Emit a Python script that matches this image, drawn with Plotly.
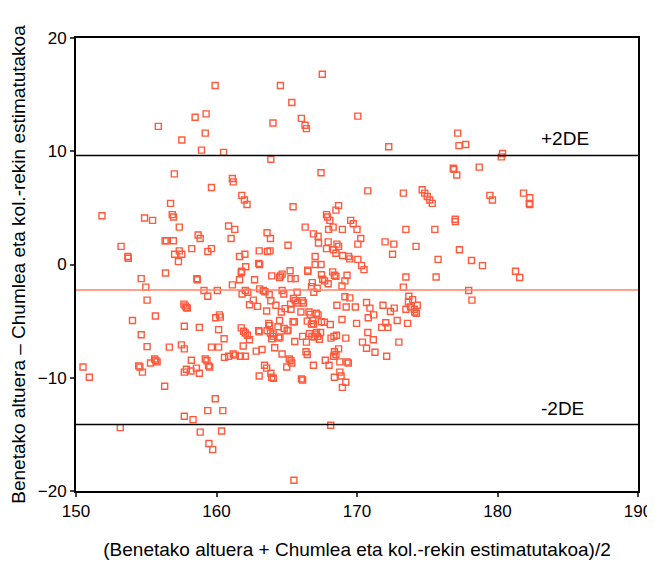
import plotly.graph_objects as go

# Bland-Altman data: mean of two measures (x) and their difference (y)
pts = [
(167.53,16.8),(159.9,15.8),(164.55,15.8),(165.36,14.3),(159.26,13.3),(158.48,13.0),(170.06,13.1),
(166.04,12.9),(164.02,12.5),(166.3,12.3),(166.4,12.0),(155.86,12.2),(159.2,11.6),(177.17,11.6),
(157.53,11.0),(177.74,10.6),(177.26,10.5),(172.26,10.4),(158.93,10.1),(160.5,9.9),(180.36,9.8),
(180.27,9.5),(163.87,9.3),
(167.44,8.1),(157.0,8.0),(176.85,8.5),(176.9,8.4),(178.7,8.6),(177.1,7.9),(161.13,7.6),(161.19,7.3),
(159.64,6.8),(170.77,6.5),(173.3,6.3),(174.64,6.6),(174.82,6.3),(175.0,6.0),(175.18,5.7),(175.36,5.4),
(181.85,6.3),(182.3,5.9),(182.26,5.4),(182.3,5.3),(179.46,6.1),(179.64,5.7),(161.8,6.1),(161.99,5.7),
(162.17,5.3),(156.73,5.4),(165.45,5.1),(168.69,5.2),(168.5,4.8),(151.85,4.3),(156.85,4.4),(156.94,4.2),
(167.83,4.4),(167.9,4.2),(168.07,3.9),(154.88,4.1),(155.45,3.9),(169.55,3.9),(169.73,3.6),(176.99,4.0),
(177.0,3.8),(160.86,3.4),(161.3,3.1),(157.35,3.3),(166.31,3.3),(168.3,3.3),(167.98,3.1),(168.96,3.1),
(170.0,3.1),(173.48,3.1),(175.54,3.1),(163.6,2.8),(166.9,2.7),(158.69,2.6),(158.84,2.3),(161.04,2.3),
(163.84,2.3),(167.23,2.5),(170.27,2.3),(156.34,2.1),(156.43,2.1),(156.93,2.1),(167.26,1.9),(167.95,2.0),
(168.57,1.8),(170.06,1.8),(172.0,2.0),(172.62,1.8),(153.21,1.6),(165.09,1.7),(174.2,1.6),(158.24,1.4),
(159.64,1.4),(167.83,1.4),(168.33,1.3),(168.69,1.6),(177.29,1.3),(157.35,1.2),(159.38,1.15),(163.04,1.2),
(163.63,1.15),(163.81,1.2),(168.5,1.0),(162.02,0.9),(157.02,0.9),(157.53,0.9),(172.53,0.9),(153.69,0.7),
(153.72,0.55),(161.64,0.7),(167.02,0.7),(168.98,0.8),(169.4,0.7),(169.49,0.5),(170.06,0.45),(175.77,0.45),
(178.15,0.35),(157.29,0.25),(163.0,0.1),(163.07,0.0),(167.02,0.0),(167.44,0.0),(170.33,-0.1),(170.5,-0.45),
(178.93,-0.1),
(162.08,-0.2),(165.24,-0.55),(166.49,-0.5),(166.5,-0.6),(161.79,-0.6),(161.76,-0.7),(156.37,-0.75),
(181.28,-0.6),(181.58,-1.15),(164.55,-1.0),(164.67,-0.85),(164.49,-1.15),(163.93,-1.0),(165.3,-1.25),
(165.6,-1.25),(167.47,-0.9),(167.56,-1.3),(167.7,-1.45),(168.27,-0.65),(168.39,-0.95),(168.5,-1.05),
(169.29,-0.95),(169.14,-1.45),(154.64,-1.25),(158.6,-1.25),(158.63,-1.35),(162.71,-1.35),(161.64,-1.35),
(173.48,-1.1),(175.63,-1.1),(161.13,-1.8),(167.95,-1.7),(166.82,-1.6),(166.76,-1.95),(167.17,-2.1),
(168.93,-1.9),(154.97,-2.0),(159.11,-2.3),(160.06,-2.3),(162.05,-2.3),(162.23,-2.45),(163.07,-2.15),
(163.33,-2.3),(163.45,-2.4),(164.67,-2.3),(164.79,-2.6),(165.74,-2.45),(166.93,-2.45),(173.3,-2.0),
(177.95,-2.3),(161.82,-2.6),(159.38,-2.8),(178.18,-3.15),(155.06,-3.15),(162.62,-3.15),(162.35,-3.55),
(163.75,-2.65),(163.87,-3.2),(165.48,-3.0),(165.6,-3.2),(165.77,-3.4),(166.1,-3.2),(166.19,-3.4),
(165.27,-3.5),(164.23,-3.6),(162.92,-3.7),(164.88,-3.9),(165.3,-3.95),(168.57,-3.6),(169.23,-3.75),
(169.14,-2.85),(169.49,-2.95),(169.88,-3.75),(170.68,-3.35),(170.92,-3.85),(171.85,-3.6),(172.65,-3.85),
(172.38,-4.15),(173.48,-3.95),(173.69,-2.8),(173.66,-3.3),(173.96,-3.1),(173.81,-3.75),(174.08,-3.95),
(174.29,-3.6),(174.11,-4.2),(174.23,-4.3),(157.68,-3.5),(157.77,-3.65),(157.86,-3.8),(157.92,-3.85),
(163.57,-4.1),(164.61,-4.2),(166.01,-4.2),(166.58,-4.2),(166.67,-4.4),(167.11,-4.3),(167.23,-4.45),
(171.19,-4.45),(170.8,-4.7),(159.94,-4.7),(160.21,-4.45),(160.27,-4.65),(155.65,-4.55),(154.02,-4.95),
(157.71,-5.45),(158.78,-5.55),(160.15,-5.75),(166.46,-5.0),(166.85,-4.95),(166.76,-5.25),(166.9,-5.25),
(167.47,-5.05),(167.68,-5.1),(168.1,-5.3),(168.93,-4.85),(169.97,-5.2),(172.86,-4.95),(173.6,-5.2),
(164.49,-4.95),(165.45,-5.05),(165.54,-5.05),(163.72,-5.2),(163.78,-5.4),(164.38,-5.5),(164.82,-5.65),
(165.03,-5.85),(165.09,-5.8),(172.05,-5.15),(172.2,-5.55),(171.76,-5.55),(161.76,-5.6),(161.93,-5.9),
(162.05,-6.05),(162.2,-6.25),(162.35,-6.65),(163.0,-5.85),(163.04,-5.95),(163.6,-5.85),(163.84,-6.05),
(164.05,-6.15),(164.02,-6.35),(163.93,-6.55),(164.43,-6.5),(164.52,-6.4),(166.13,-6.35),(166.61,-6.1),
(166.79,-6.35),(166.96,-6.4),(167.05,-6.15),(167.11,-6.0),(167.2,-6.35),(167.32,-6.6),(167.41,-6.0),
(168.15,-6.5),(168.36,-6.35),(168.54,-6.25),(169.2,-6.5),(170.77,-6.0),(171.16,-6.65),(170.39,-6.85),
(170.68,-7.4),(171.28,-7.75),(172.98,-6.85),(172.11,-8.1),(154.64,-6.2),(155.06,-7.25),(156.64,-7.3),
(157.5,-7.1),(157.71,-7.45),(159.64,-7.3),(160.15,-7.3),(160.54,-6.55),(161.9,-7.2),(162.83,-7.65),
(163.24,-7.5),(164.14,-7.35),(165.57,-6.8),(166.4,-6.85),(164.67,-7.9),(166.37,-7.7),(166.46,-7.95),
(167.74,-8.45),(168.39,-7.7),(168.5,-7.95),(168.69,-7.45),(168.33,-8.1),(160.57,-8.2),(160.86,-8.1),
(161.19,-7.9),(161.34,-8.0),(161.7,-8.1),(162.05,-8.1),(158.21,-8.45),(159.2,-8.35),(159.32,-8.5),
(159.43,-8.95),(159.52,-9.05),(155.6,-8.35),(155.68,-8.5),(155.77,-8.6),(155.3,-8.7),(154.46,-8.95),
(154.55,-9.05),(154.73,-9.5),(150.5,-9.05),(150.95,-9.95),(157.71,-9.5),(157.86,-9.25),(158.18,-9.4),
(158.57,-9.15),(158.78,-9.6),(156.31,-10.75),(163.42,-8.9),(163.57,-9.15),(165.18,-8.35),(165.3,-8.5),
(165.36,-8.7),(165.0,-9.05),(163.04,-9.85),(163.87,-9.6),(163.93,-9.95),(164.05,-10.05),(166.04,-10.1),
(166.13,-10.2),(166.9,-8.9),(168.01,-8.9),(168.78,-8.6),(169.29,-8.6),(169.38,-8.7),(168.78,-9.5),
(168.87,-9.85),(168.39,-9.95),(169.2,-10.4),(168.96,-10.85),
(159.91,-11.85),(159.38,-12.9),(160.45,-12.9),(157.71,-13.4),(158.33,-13.7),(153.15,-14.4),(168.13,-14.2),
(158.84,-14.8),(160.36,-14.7),(159.46,-15.8),(159.73,-16.35),(165.51,-19.05),
]
mean_height = [p[0] for p in pts]
difference = [p[1] for p in pts]

mean_diff = -2.25
upper_limit = 9.62
lower_limit = -14.12
limit_labels = ["+2DE", "-2DE"]

x_ticks = [150, 160, 170, 180, 190]
y_ticks = [-20, -10, 0, 10, 20]

FONT = "Liberation Sans, Arial, sans-serif"

fig = go.Figure()
fig.add_trace(go.Scatter(
    x=mean_height, y=difference, mode="markers",
    marker=dict(symbol="square-open", size=6, color="#FF5A3C", line=dict(width=1.4, color="#FF5A3C")),
    showlegend=False, hoverinfo="x+y"))

fig.add_hline(y=upper_limit, line=dict(color="black", width=1.5))
fig.add_hline(y=lower_limit, line=dict(color="black", width=1.5))
fig.add_hline(y=mean_diff, line=dict(color="#FF8266", width=1.5))

fig.add_annotation(x=184.8, y=upper_limit, text=limit_labels[0], showarrow=False,
                   xanchor="center", yanchor="bottom", yshift=5,
                   font=dict(family=FONT, size=19, color="black"))
fig.add_annotation(x=184.6, y=lower_limit, text=limit_labels[1], showarrow=False,
                   xanchor="center", yanchor="bottom", yshift=3,
                   font=dict(family=FONT, size=19, color="black"))

fig.update_layout(
    width=647, height=552,
    margin=dict(l=68, r=17, t=30, b=69),
    plot_bgcolor="white", paper_bgcolor="white",
    font=dict(family=FONT, size=17, color="black"),
    xaxis=dict(range=[150, 190], tickvals=x_ticks, ticks="outside", ticklen=4, tickwidth=2,
               showgrid=False, zeroline=False, showline=True, linecolor="black", linewidth=2,
               mirror=True, automargin=False,
               title=dict(text="(Benetako altuera + Chumlea eta kol.-rekin estimatutakoa)/2",
                          font=dict(size=19), standoff=30)),
    yaxis=dict(range=[-20, 20], tickvals=y_ticks, ticks="outside", ticklen=4, tickwidth=2,
               showgrid=False, zeroline=False, showline=True, linecolor="black", linewidth=2,
               mirror=True, automargin=False,
               title=dict(text="Benetako altuera \u2013 Chumlea eta kol.-rekin estimatutakoa",
                          font=dict(size=19), standoff=10)),
)

fig.write_html("out.html")
